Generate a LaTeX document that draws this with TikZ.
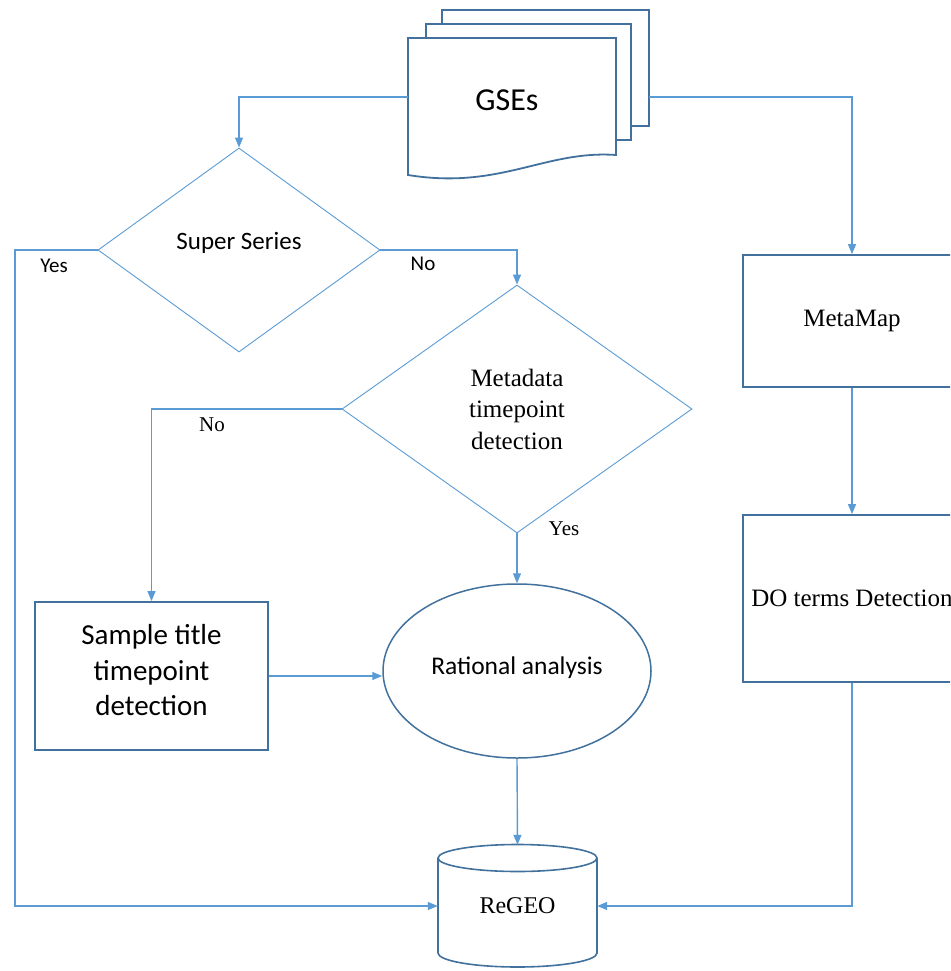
\documentclass[tikz,border=0pt]{standalone}
\usepackage{fontspec}
\setmainfont{Liberation Serif}
\newfontfamily\calibri{Carlito}
\usetikzlibrary{shapes.geometric,arrows.meta}
\definecolor{linkblue}{RGB}{91,155,213}
\definecolor{rimblue}{RGB}{65,113,156}
\begin{document}
\begin{tikzpicture}
                [x=1pt, y=-1pt,
                 box/.style={rectangle, draw=rimblue, line width=1.8pt, inner sep=0pt, align=center},
                 decision/.style={diamond, draw=linkblue, line width=0.9pt, inner sep=0pt, align=center},
                 sheet/.style={draw=rimblue, line width=1.8pt, fill=white},
                 link/.style={draw=linkblue, line width=1.4pt, -{Triangle[length=10pt, width=8pt]}},
                 serif/.style={font=\fontsize{25}{31.5}\selectfont},
                 sans/.style={font=\calibri\fontsize{25}{35}\selectfont},
                 tag/.style={font=\fontsize{21}{24}\selectfont},
                 sanstag/.style={font=\calibri\fontsize{21}{24}\selectfont}]
                \useasboundingbox (0,0) rectangle (950,971);
                \clip (0,0) rectangle (950,971);
                % Define document stack
                \draw[sheet] (442,126) -- (442,10) -- (649,10) -- (649,126) -- cycle;
                \draw[sheet] (426,140) -- (426,24) -- (631,24) -- (631,140) -- cycle;
                \draw[sheet] (408,175) -- (408,38) -- (616,38) -- (616,155)
                    .. controls (545,150) and (500,190) .. (408,175) -- cycle;
                \node[font=\calibri\fontsize{32}{36}\selectfont] (gses) at (507,100) {GSEs};
                \coordinate (gsesL) at (408,97);
                \coordinate (gsesR) at (649,97);
                % Define nodes
                \node[decision, sans, minimum width=282pt, minimum height=204pt] (ss) at (239,250) {Super Series\\[-17pt]};
                \node[decision, serif, minimum width=350pt, minimum height=248pt] (md) at (517,409) {Metadata\\timepoint\\detection};
                \node[box, font=\calibri\fontsize{29}{35.5}\selectfont, fill=white, minimum width=233pt, minimum height=148pt] (st) at (151.5,676) {Sample title\\timepoint\\detection\\[-23.5pt]};
                \node[ellipse, draw=rimblue, line width=1.5pt, inner sep=0pt, align=center, font=\calibri\fontsize{25.5}{30}\selectfont,
                      minimum width=268pt, minimum height=174pt] (ra) at (517,671) {Rational analysis\\[-20pt]};
                \node[box, serif, minimum width=218pt, minimum height=132pt] (mm) at (852,321) {MetaMap};
                \node[box, serif, minimum width=218pt, minimum height=167pt] (do) at (852,598.5) {DO terms\ Detection};
                \node[inner sep=0pt, minimum width=159pt, minimum height=122pt, font=\fontsize{24}{30}\selectfont] (regeo) at (517.5,906) {ReGEO};
                % Define cylinder
                \draw[rimblue, line width=1.6pt] (438,858) -- (438,953) arc[start angle=180, end angle=360, x radius=79.5, y radius=-14]
                    -- (597,858);
                \draw[rimblue, line width=1.6pt] (517.5,858) ellipse[x radius=79.5, y radius=13.5];
                \coordinate (lft) at (15,250);
                % Define edges
                \draw[link] (gsesL) -| (ss.north);
                \draw[link] (gsesR) -| (mm.north);
                \draw[link] (ss.west) -- (lft) |- (regeo.west);
                \draw[link] (ss.east) -| (md.north);
                \draw[link] (md.west) -| (st.north);
                \draw[link] (md.south) -- (ra.north);
                \draw[link] (st.east) -- (st.east -| ra.west);
                \draw[link] (ra.south) -- (regeo.north);
                \draw[link] (mm.south) -- (do.north);
                \draw[link] (do.south) |- (regeo.east);
                % Define labels
                \node[sanstag] (yes1) at (54,266) {Yes};
                \node[sanstag] (no1) at (423,264) {No};
                \node[tag] (no2) at (212,425) {No};
                \node[tag] (yes2) at (564,529) {Yes};
            \end{tikzpicture}
\end{document}
